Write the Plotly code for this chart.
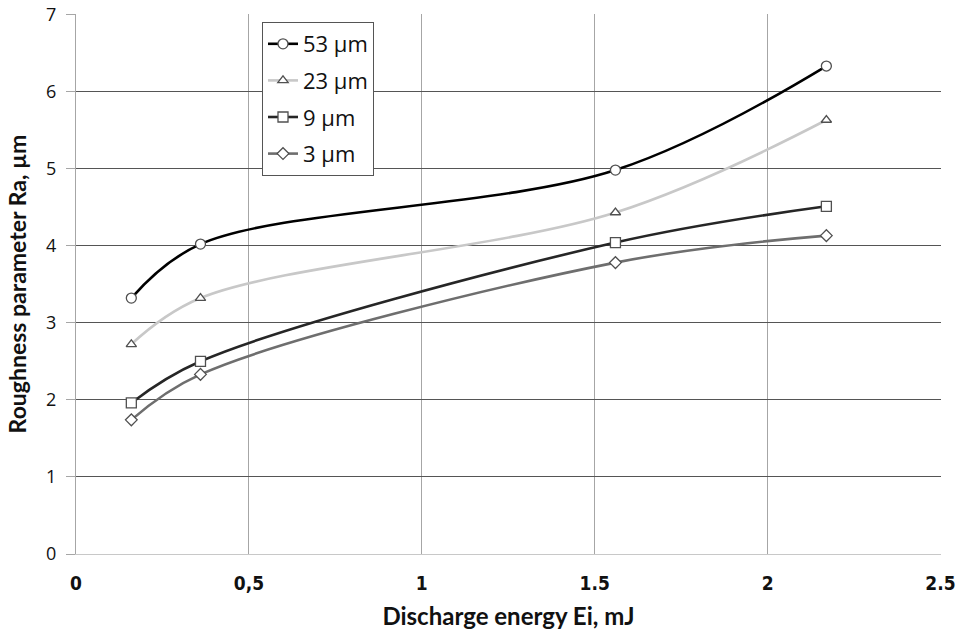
import plotly.graph_objects as go

energy = [0.16, 0.36, 1.56, 2.17]
ra_53 = [3.32, 4.02, 4.98, 6.33]
ra_23 = [2.72, 3.32, 4.43, 5.63]
ra_9 = [1.96, 2.50, 4.04, 4.51]
ra_3 = [1.74, 2.33, 3.78, 4.13]

series_names = ["53 \u00b5m", "23 \u00b5m", "9 \u00b5m", "3 \u00b5m"]
series_vals = [ra_53, ra_23, ra_9, ra_3]
line_colors = ["#000000", "#c8c8c8", "#262626", "#6e6e6e"]
symbols = ["circle", "triangle-up", "square", "diamond"]
sizes = [10, 9, 10, 9]

x_tickvals = [0, 0.5, 1, 1.5, 2, 2.5]
x_ticktext = ["0", "0,5", "1", "1.5", "2", "2.5"]

fig = go.Figure()
for name, vals, col, sym, sz in zip(series_names, series_vals, line_colors, symbols, sizes):
    fig.add_trace(go.Scatter(
        x=energy, y=vals, name=name, mode="lines+markers",
        legendgroup=name,
        line=dict(color=col, width=2.6, shape="spline", smoothing=1.0),
        marker=dict(symbol=sym, size=sz, color="white",
                    line=dict(color="#505050", width=1.3)),
    ))

L, R, T, B = 76, 16, 14, 83
W, H = 957, 637
pw, ph = W - L - R, H - T - B

fig.update_layout(
    width=W, height=H,
    margin=dict(l=L, r=R, t=T, b=B, autoexpand=False),
    paper_bgcolor="white", plot_bgcolor="white",
    showlegend=True,
    legend=dict(
        x=(262 - L) / pw, y=1 - (22 - T) / ph, xanchor="left", yanchor="top",
        font=dict(family="Open Sans, Lato, sans-serif", size=22, color="#111"),
        bgcolor="white", bordercolor="#555", borderwidth=1,
        tracegroupgap=5,
    ),
    xaxis=dict(
        range=[0, 2.5015], tickvals=x_tickvals, ticktext=x_ticktext, automargin=False,
        ticklabeloverflow="allow",
        showgrid=True, gridcolor="#a6a6a6", gridwidth=1.3,
        zeroline=False, showline=True, linecolor="#c8c8c8", linewidth=1,
        ticks="", ticklabelstandoff=12,
        tickfont=dict(family="DejaVu Sans Condensed, Liberation Sans Narrow, Liberation Sans", size=19, color="#111", weight="bold"),
        title=dict(text="Discharge energy Ei, mJ", standoff=15,
                   font=dict(family="Lato, Open Sans, sans-serif", size=24, color="#111", weight="bold")),
    ),
    yaxis=dict(
        range=[0, 7.005], dtick=1, tick0=0, automargin=False,
        ticklabeloverflow="allow",
        showgrid=True, gridcolor="#555555", gridwidth=1.3,
        zeroline=False, showline=True, linecolor="#a6a6a6", linewidth=1.3,
        ticks="outside", ticklen=9, tickcolor="#a6a6a6", ticklabelstandoff=6,
        tickfont=dict(family="Open Sans, Lato, sans-serif", size=18, color="#111"),
        title=dict(text="Roughness parameter Ra, \u00b5m", standoff=12,
                   font=dict(family="Lato, Open Sans, sans-serif", size=23, color="#111", weight="bold")),
    ),
)

fig.write_html("out.html")
